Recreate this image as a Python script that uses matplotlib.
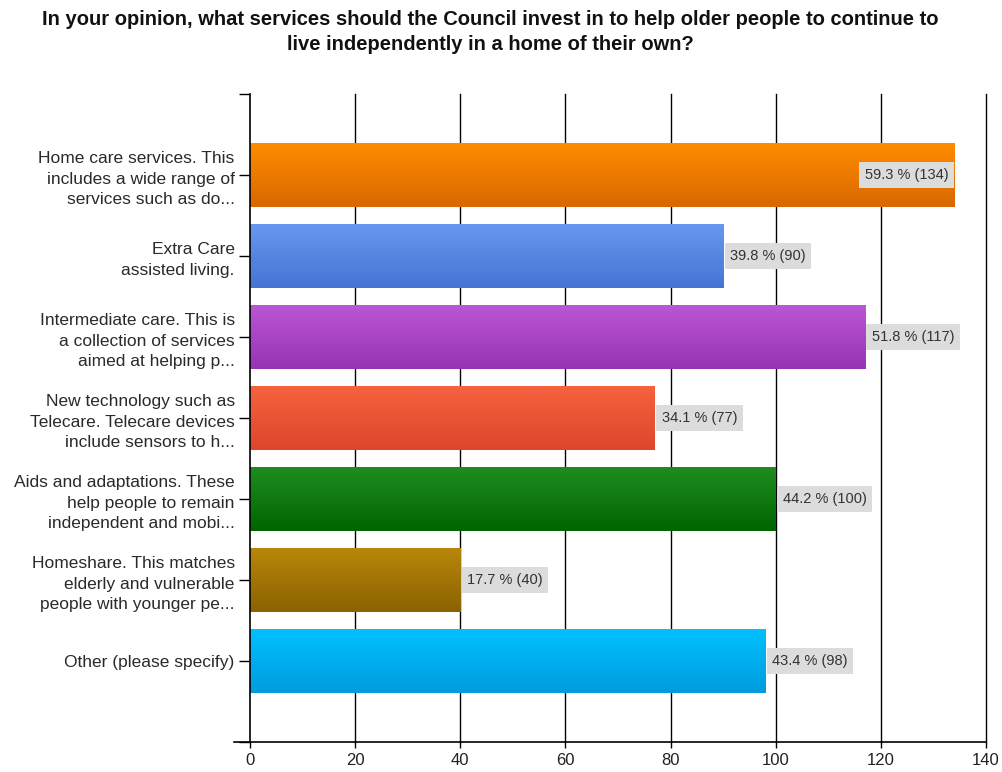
import numpy as np
import matplotlib
matplotlib.use("Agg")
import matplotlib.pyplot as plt
from matplotlib.colors import LinearSegmentedColormap

plt.rcParams['font.family'] = ['Liberation Sans', 'DejaVu Sans']

title = ("In your opinion, what services should the Council invest in to help older people to continue to\n"
         "live independently in a home of their own?")

categories = [
    "Home care services. This\nincludes a wide range of\nservices such as do...",
    "Extra Care\nassisted living.",
    "Intermediate care. This is\na collection of services\naimed at helping p...",
    "New technology such as\nTelecare. Telecare devices\ninclude sensors to h...",
    "Aids and adaptations. These\nhelp people to remain\nindependent and mobi...",
    "Homeshare. This matches\nelderly and vulnerable\npeople with younger pe...",
    "Other (please specify)",
]
counts = [134, 90, 117, 77, 100, 40, 98]
percents = [59.3, 39.8, 51.8, 34.1, 44.2, 17.7, 43.4]

# (top colour, bottom colour) for each bar's vertical gradient
bar_colors = [
    ("#ff8c00", "#d86800"),
    ("#6797ee", "#4674d4"),
    ("#bb56d4", "#9634b4"),
    ("#f6623f", "#dd462b"),
    ("#1f8c1f", "#006600"),
    ("#b8870b", "#8a6200"),
    ("#00c0ff", "#009cdc"),
]

xticks = [0, 20, 40, 60, 80, 100, 120, 140]

fig = plt.figure(figsize=(10.02, 7.72), dpi=100)
ax = fig.add_axes([250 / 1002, 30 / 772, 736 / 1002, 648 / 772])

n = len(categories)
ypos = np.arange(n, 0, -1)  # first category at the top
bar_h = 0.79

for x in xticks[1:]:
    ax.axvline(x, color="black", lw=1.0, zorder=1, clip_on=False)

# row 0 is the bottom of the bar (origin='lower'), so go dark -> light
grad = np.linspace(0, 1, 64).reshape(-1, 1)
for y, c, (top, bottom) in zip(ypos, counts, bar_colors):
    cmap = LinearSegmentedColormap.from_list("g", [bottom, top])
    ax.imshow(grad, cmap=cmap, aspect="auto", interpolation="bilinear",
              origin="lower",
              extent=(0, c, y - bar_h / 2, y + bar_h / 2), zorder=2)

ax.set_ylim(0, n + 1)
ax.set_xlim(0, 140)

for y, c, p in zip(ypos, counts, percents):
    label = f"{p} % ({c})"
    box = dict(boxstyle="square,pad=0.38", fc="#dcdcdc", ec="none")
    if c > 125:
        ax.annotate(label, (c, y), xytext=(-4.5, 0), textcoords="offset points",
                    ha="right", va="center", fontsize=10.5, color="#333333",
                    bbox=box, zorder=4)
    else:
        ax.annotate(label, (c, y), xytext=(5, 0), textcoords="offset points",
                    ha="left", va="center", fontsize=10.5, color="#333333",
                    bbox=box, zorder=4)

ax.set_yticks(list(ypos) + [0, n + 1])
ax.set_yticklabels(categories + ["", ""], fontsize=12.5, color="#2a2a2a",
                   linespacing=1.45)
ax.tick_params(axis="y", length=8, width=1, color="black", pad=3)
ax.set_xticks(xticks)
ax.set_xticklabels([str(v) for v in xticks], fontsize=12, color="#222222")
ax.tick_params(axis="x", length=4, width=1, color="black", pad=4)

for side in ("top", "right"):
    ax.spines[side].set_visible(False)
for side in ("left", "bottom"):
    ax.spines[side].set_color("black")
    ax.spines[side].set_linewidth(1.2)
ax.spines["bottom"].set_bounds(-3, 140)

fig.text(490 / 1002, 1 - 32 / 772, title, ha="center", va="center",
         fontsize=14.5, fontweight="bold", color="#111111", linespacing=1.45)

fig.savefig("out.png", dpi=100)
